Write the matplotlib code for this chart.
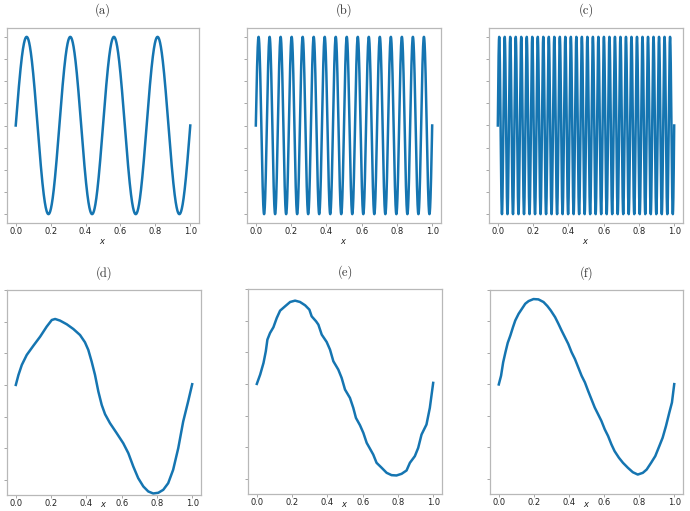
import numpy as np
import matplotlib
matplotlib.use("Agg")
import matplotlib.pyplot as plt
from matplotlib.ticker import MaxNLocator, MultipleLocator

# ---------------- data ----------------
titles_top = ["(a)", "(b)", "(c)"]
titles_bottom = ["(d)", "(e)", "(f)"]
x_ticks = [0.0, 0.2, 0.4, 0.6, 0.8, 1.0]
x_tick_labels = ["0.0", "0.2", "0.4", "0.6", "0.8", "1.0"]

# top row: pure sine waves, number of full cycles over [0, 1]
top_cycles = [4, 16, 32]
top_amplitude = 1.0

# bottom row: curves (x, y)
d_x = [0.0, 0.015, 0.034, 0.062, 0.100, 0.138, 0.175, 0.204, 0.223, 0.251, 0.289,
       0.326, 0.364, 0.392, 0.411, 0.430, 0.449, 0.468, 0.487, 0.506, 0.534, 0.572,
       0.609, 0.638, 0.666, 0.694, 0.723, 0.751, 0.779, 0.808, 0.836, 0.864, 0.892,
       0.921, 0.949, 0.977, 1.0]
d_y = [0.0, 0.158, 0.316, 0.474, 0.621, 0.763, 0.921, 1.026, 1.042, 1.016, 0.958,
       0.884, 0.789, 0.674, 0.553, 0.368, 0.158, -0.105, -0.316, -0.463, -0.605, -0.763,
       -0.921, -1.079, -1.289, -1.474, -1.605, -1.684, -1.716, -1.705, -1.658, -1.553, -1.342,
       -1.000, -0.579, -0.263, 0.011]

e_x = [0.0, 0.019, 0.038, 0.051, 0.060, 0.075, 0.094, 0.113, 0.132, 0.160, 0.189,
       0.217, 0.245, 0.274, 0.298, 0.311, 0.336, 0.349, 0.368, 0.396, 0.415, 0.434,
       0.462, 0.481, 0.500, 0.528, 0.547, 0.562, 0.585, 0.604, 0.623, 0.642, 0.660,
       0.679, 0.708, 0.736, 0.764, 0.792, 0.821, 0.849, 0.868, 0.896, 0.915, 0.934,
       0.962, 0.981, 1.0]
e_y = [0.0, 0.147, 0.332, 0.516, 0.700, 0.805, 0.895, 1.042, 1.158, 1.226, 1.295,
       1.316, 1.295, 1.242, 1.174, 1.068, 0.989, 0.937, 0.779, 0.663, 0.542, 0.358,
       0.226, 0.095, -0.089, -0.221, -0.379, -0.537, -0.653, -0.774, -0.932, -1.026, -1.116,
       -1.247, -1.326, -1.405, -1.442, -1.447, -1.421, -1.368, -1.247, -1.142, -1.011, -0.800,
       -0.642, -0.379, 0.016]

f_x = [0.0, 0.013, 0.025, 0.038, 0.051, 0.066, 0.081, 0.094, 0.113, 0.132, 0.151,
       0.170, 0.198, 0.226, 0.255, 0.277, 0.296, 0.321, 0.340, 0.358, 0.377, 0.396,
       0.415, 0.434, 0.453, 0.472, 0.491, 0.509, 0.528, 0.547, 0.566, 0.585, 0.604,
       0.623, 0.642, 0.660, 0.685, 0.708, 0.736, 0.764, 0.792, 0.821, 0.843, 0.868,
       0.892, 0.915, 0.934, 0.953, 0.972, 0.987, 1.0]
f_y = [0.0, 0.138, 0.351, 0.511, 0.660, 0.777, 0.910, 1.016, 1.122, 1.202, 1.282,
       1.324, 1.356, 1.351, 1.309, 1.245, 1.176, 1.069, 0.963, 0.856, 0.750, 0.644,
       0.511, 0.404, 0.271, 0.138, 0.032, -0.101, -0.234, -0.367, -0.473, -0.580, -0.713,
       -0.819, -0.952, -1.059, -1.165, -1.245, -1.324, -1.394, -1.431, -1.404, -1.351, -1.245,
       -1.138, -0.979, -0.846, -0.660, -0.447, -0.287, 0.005]

bottom_ylim = (-1.74, 1.5)

# ---------------- style ----------------
LINE_COLOR = "#1575b1"
SPINE_COLOR = "#b8b8b8"
W, H = 690, 511

fig = plt.figure(figsize=(W / 100, H / 100), dpi=100)

top_boxes = [(7, 28, 192, 195), (247, 28, 194, 195), (489, 28, 194, 195)]
bottom_boxes = [(7, 290, 194, 205), (248, 289, 194, 205), (490, 290, 193, 204)]


def make_axes(box):
    l, t, w, h = box
    return fig.add_axes([l / W, 1 - (t + h) / H, w / W, h / H])


def style(ax, title, pad):
    for s in ax.spines.values():
        s.set_color(SPINE_COLOR)
        s.set_linewidth(0.9)
    ax.tick_params(axis="both", length=2, width=0.6, color="#999999",
                   labelsize=6, labelcolor="#222222", pad=1.2)
    ax.set_xticks(x_ticks)
    ax.set_xticklabels(x_tick_labels)
    ax.set_yticklabels([])
    ax.set_xlabel("$x$", fontsize=6, labelpad=0.5, color="#222222")
    ax.set_title(title, family="cmr10", fontsize=9, pad=pad, color="#333333")


x_dense = np.linspace(0.0, 1.0, 4001)
for box, title, k in zip(top_boxes, titles_top, top_cycles):
    ax = make_axes(box)
    ax.plot(x_dense, top_amplitude * np.sin(2 * np.pi * k * x_dense),
            color=LINE_COLOR, lw=1.8)
    ax.yaxis.set_major_locator(MaxNLocator(nbins=9))
    style(ax, title, pad=10.5)

for box, title, (xs, ys) in zip(bottom_boxes, titles_bottom,
                                [(d_x, d_y), (e_x, e_y), (f_x, f_y)]):
    ax = make_axes(box)
    ax.plot(xs, ys, color=LINE_COLOR, lw=1.8, solid_joinstyle="round")
    ax.set_ylim(*bottom_ylim)
    ax.yaxis.set_major_locator(MultipleLocator(0.5))
    style(ax, title, pad=9.5)
    h_px = box[3]
    ax.xaxis.set_label_coords(0.5, -(H - 2 - (box[1] + h_px)) / h_px)
    ax.xaxis.label.set_verticalalignment("bottom")

fig.savefig("out.png", dpi=100)
